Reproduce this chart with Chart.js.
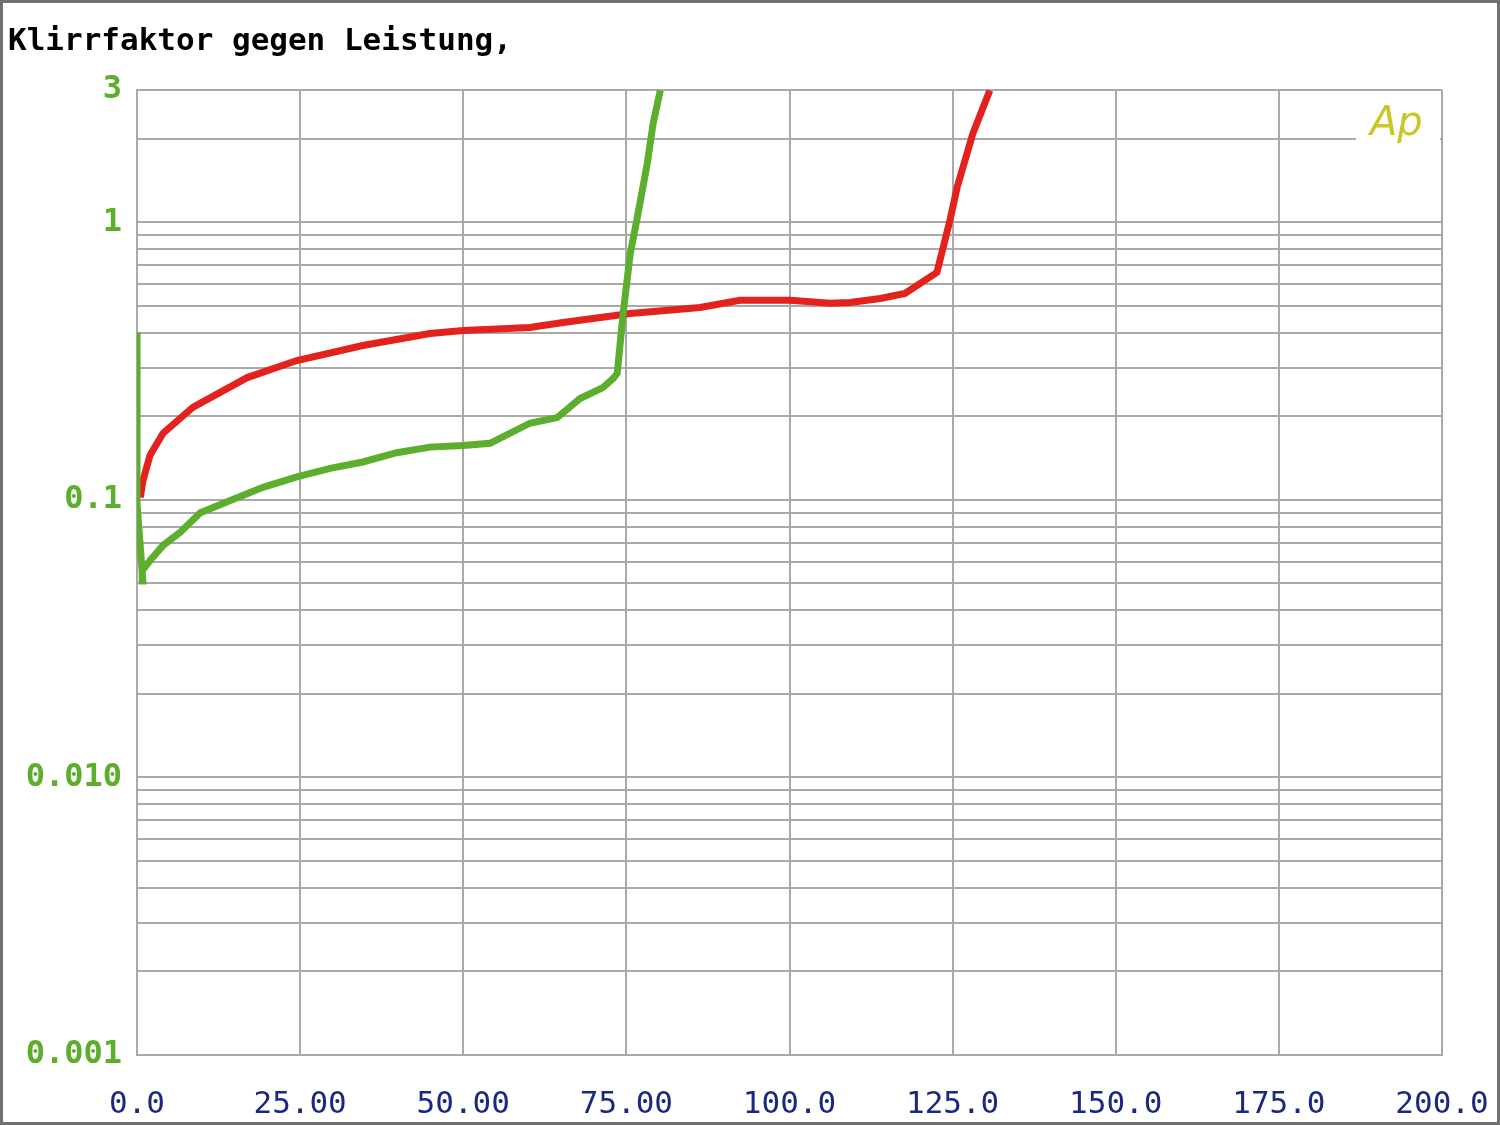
<!DOCTYPE html>
<html>
<head>
<meta charset="utf-8">
<script src="https://cdn.jsdelivr.net/npm/chart.js@4.4.1/dist/chart.umd.min.js"></script>
<style>
  html, body { margin: 0; padding: 0; background: #fff; }
  canvas { display: block; }
</style>
</head>
<body>
<canvas id="thd" width="1500" height="1125"></canvas>
<script>
const titleText = 'Klirrfaktor gegen Leistung,';

// x ticks (power, W) and their labels
const xTickValues = [0, 25, 50, 75, 100, 125, 150, 175, 200];
const xTickLabels = ['0.0', '25.00', '50.00', '75.00', '100.0', '125.0', '150.0', '175.0', '200.0'];

// y (THD %) labelled ticks and log grid
const yTickValues = [0.001, 0.01, 0.1, 1, 3];
const yTickLabels = ['0.001', '0.010', '0.1', '1', '3'];
const yGridValues = [
  0.001, 0.002, 0.003, 0.004, 0.005, 0.006, 0.007, 0.008, 0.009,
  0.01, 0.02, 0.03, 0.04, 0.05, 0.06, 0.07, 0.08, 0.09,
  0.1, 0.2, 0.3, 0.4, 0.5, 0.6, 0.7, 0.8, 0.9,
  1, 2, 3
];

// red trace
const redX = [0.5, 0.9, 2.0, 4.0, 8.6, 16.9, 24.5, 34.6, 44.9, 50.0, 60.2, 65.3, 75.6,
  86.3, 92.4, 100.1, 106.2, 109.3, 113.9, 117.7, 122.6, 124.6, 125.7, 128.1, 130.7];
const redY = [0.102, 0.117, 0.145, 0.174, 0.216, 0.276, 0.318, 0.360, 0.398, 0.408, 0.418, 0.436, 0.470,
  0.494, 0.524, 0.524, 0.511, 0.515, 0.532, 0.555, 0.661, 1.02, 1.34, 2.09, 2.99];

// green trace
const greenX = [0, 0, 0.9, 0.8, 2.0, 4.0, 6.6, 9.7, 14.3, 19.3, 24.5, 29.6, 34.6, 39.8, 44.9, 50.0,
  54.1, 60.2, 64.4, 67.9, 71.4, 73.0, 73.6, 74.5, 75.6, 76.6, 78.2, 79.1, 80.2];
const greenY = [0.402, 0.097, 0.051, 0.0557, 0.0605, 0.0686, 0.0764, 0.090, 0.0996, 0.111, 0.121, 0.130,
  0.137, 0.148, 0.155, 0.157, 0.160, 0.189, 0.198, 0.232, 0.254, 0.274, 0.286, 0.470, 0.773, 1.02,
  1.63, 2.27, 2.99];

const RED = '#e3221d';
const GREEN = '#5cae2c';
const GRID = '#a9a9a9';

function toPoints(xs, ys) {
  return xs.map((x, i) => ({ x, y: ys[i] }));
}

const decorPlugin = {
  id: 'decor',
  beforeDraw(chart) {
    const ctx = chart.ctx;
    ctx.save();
    ctx.fillStyle = '#fff';
    ctx.fillRect(0, 0, chart.width, chart.height);
    ctx.restore();
  },
  beforeDatasetsDraw(chart) {
    // the "Ap" logo hides the grid line behind it
    const ctx = chart.ctx;
    const a = chart.chartArea;
    const yPos = chart.scales.y.getPixelForValue(2);
    ctx.save();
    ctx.fillStyle = '#fff';
    ctx.fillRect(a.right - 86, yPos - 6, 84, 12);
    ctx.fillStyle = '#c9c626';
    ctx.font = 'italic 40px "DejaVu Sans", sans-serif';
    ctx.textAlign = 'left';
    ctx.textBaseline = 'alphabetic';
    ctx.fillText('Ap', a.right - 72, yPos - 4);
    ctx.restore();
  },
  afterDraw(chart) {
    const ctx = chart.ctx;
    ctx.save();
    ctx.fillStyle = '#000';
    ctx.font = 'bold 31px "DejaVu Sans Mono", monospace';
    ctx.textBaseline = 'alphabetic';
    ctx.fillText(titleText, 8, 50);
    ctx.strokeStyle = '#707070';
    ctx.lineWidth = 3;
    ctx.strokeRect(1.5, 1.5, chart.width - 3, chart.height - 3);
    ctx.restore();
  }
};

new Chart(document.getElementById('thd'), {
  type: 'line',
  data: {
    datasets: [
      {
        label: 'green',
        data: toPoints(greenX, greenY),
        borderColor: GREEN,
        borderWidth: 7,
        pointRadius: 0,
        tension: 0
      },
      {
        label: 'red',
        data: toPoints(redX, redY),
        borderColor: RED,
        borderWidth: 7,
        pointRadius: 0,
        tension: 0
      }
    ]
  },
  options: {
    responsive: false,
    animation: false,
    devicePixelRatio: 1,
    layout: { padding: { left: 0, top: 90, right: 58, bottom: 0 } },
    plugins: { legend: { display: false }, tooltip: { enabled: false } },
    scales: {
      x: {
        type: 'linear',
        min: 0,
        max: 200,
        afterBuildTicks: s => { s.ticks = xTickValues.map(v => ({ value: v })); },
        afterFit: s => { s.height = 70; s.paddingLeft = 0; s.paddingRight = 0; },
        grid: { color: GRID, lineWidth: 2, drawTicks: false },
        border: { color: GRID, width: 2 },
        ticks: {
          autoSkip: false,
          maxRotation: 0,
          padding: 31,
          color: '#1b2880',
          font: { family: '"DejaVu Sans Mono", monospace', size: 31 },
          callback: v => {
            const i = xTickValues.indexOf(v);
            return i >= 0 ? xTickLabels[i] : '';
          }
        }
      },
      y: {
        type: 'logarithmic',
        min: 0.001,
        max: 3,
        afterBuildTicks: s => { s.ticks = yGridValues.map(v => ({ value: v })); },
        afterFit: s => { s.width = 137; s.paddingTop = 0; s.paddingBottom = 0; },
        grid: { color: GRID, lineWidth: 2, drawTicks: false },
        border: { color: GRID, width: 2 },
        ticks: {
          autoSkip: false,
          padding: 15,
          color: GREEN,
          font: { family: '"DejaVu Sans Mono", monospace', size: 32, weight: 'bold' },
          callback: v => {
            const i = yTickValues.findIndex(t => Math.abs(t - v) / t < 1e-6);
            return i >= 0 ? yTickLabels[i] : '';
          }
        }
      }
    }
  },
  plugins: [decorPlugin]
});
</script>
</body>
</html>
